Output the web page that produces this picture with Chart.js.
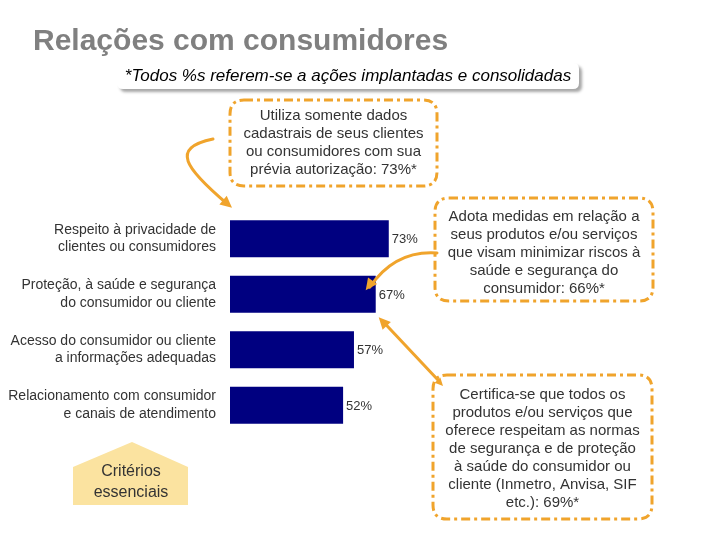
<!DOCTYPE html>
<html>
<head>
<meta charset="utf-8">
<script src="https://cdn.jsdelivr.net/npm/chart.js@4/dist/chart.umd.min.js"></script>
<style>
  html, body { margin: 0; padding: 0; background: #ffffff; }
  #wrap { width: 720px; height: 540px; position: relative; }
</style>
</head>
<body>
<div id="wrap"><canvas id="c" width="720" height="540"></canvas></div>
<script>
// ---- Data ----
const categories = [
  ['Respeito à privacidade de', 'clientes ou consumidores'],
  ['Proteção, à saúde e segurança', 'do consumidor ou cliente'],
  ['Acesso do consumidor ou cliente', 'a informações adequadas'],
  ['Relacionamento com consumidor', 'e canais de atendimento']
];
const values = [73, 67, 57, 52];
const valueLabels = ['73%', '67%', '57%', '52%'];

const titleText = 'Relações com consumidores';
const subtitleText = '*Todos %s referem-se a ações implantadas e consolidadas';
const callout1 = ['Utiliza somente dados', 'cadastrais de seus clientes', 'ou consumidores com sua', 'prévia autorização: 73%*'];
const callout2 = ['Adota medidas em relação a', 'seus produtos e/ou serviços', 'que visam minimizar riscos à', 'saúde e segurança do', 'consumidor: 66%*'];
const callout3 = ['Certifica-se que todos os', 'produtos e/ou serviços que', 'oferece respeitam as normas', 'de segurança e de proteção', 'à saúde do consumidor ou', 'cliente (Inmetro, Anvisa, SIF', 'etc.): 69%*'];
const badgeLines = ['Critérios', 'essenciais'];

// ---- Styles ----
const FONT = '"Liberation Sans", Arial, sans-serif';
const ORANGE = '#F0A42C';
const TEXT = '#333333';

function roundRectPath(ctx, x, y, w, h, r) {
  ctx.beginPath();
  ctx.moveTo(x + r, y);
  ctx.lineTo(x + w - r, y);
  ctx.quadraticCurveTo(x + w, y, x + w, y + r);
  ctx.lineTo(x + w, y + h - r);
  ctx.quadraticCurveTo(x + w, y + h, x + w - r, y + h);
  ctx.lineTo(x + r, y + h);
  ctx.quadraticCurveTo(x, y + h, x, y + h - r);
  ctx.lineTo(x, y + r);
  ctx.quadraticCurveTo(x, y, x + r, y);
  ctx.closePath();
}

function drawCallout(ctx, x, y, w, h, lines, firstY) {
  ctx.save();
  roundRectPath(ctx, x, y, w, h, 14);
  ctx.fillStyle = '#ffffff';
  ctx.fill();
  ctx.setLineDash([9, 4, 3, 4]);
  ctx.lineWidth = 3;
  ctx.strokeStyle = ORANGE;
  ctx.stroke();
  ctx.setLineDash([]);
  ctx.fillStyle = TEXT;
  ctx.font = '15px ' + FONT;
  ctx.textAlign = 'center';
  ctx.textBaseline = 'middle';
  lines.forEach((l, i) => ctx.fillText(l, x + w / 2, firstY + i * 18));
  ctx.restore();
}

function arrowHead(ctx, tipX, tipY, fromX, fromY, size) {
  const ang = Math.atan2(tipY - fromY, tipX - fromX);
  ctx.beginPath();
  ctx.moveTo(tipX, tipY);
  ctx.lineTo(tipX - size * Math.cos(ang - 0.45), tipY - size * Math.sin(ang - 0.45));
  ctx.lineTo(tipX - size * Math.cos(ang + 0.45), tipY - size * Math.sin(ang + 0.45));
  ctx.closePath();
  ctx.fill();
}

const decorPlugin = {
  id: 'decor',
  beforeDraw(chart) {
    const ctx = chart.ctx;
    ctx.save();
    ctx.fillStyle = '#ffffff';
    ctx.fillRect(0, 0, chart.width, chart.height);
    ctx.restore();
  },
  afterDraw(chart) {
    const ctx = chart.ctx;
    const xs = chart.scales.x, ys = chart.scales.y;
    ctx.save();

    // Title
    ctx.fillStyle = '#808080';
    ctx.font = 'bold 30px ' + FONT;
    ctx.textAlign = 'left';
    ctx.textBaseline = 'alphabetic';
    ctx.fillText(titleText, 33, 50);

    // Subtitle box with shadow
    ctx.save();
    ctx.shadowColor = 'rgba(0,0,0,0.35)';
    ctx.shadowOffsetX = 3;
    ctx.shadowOffsetY = 3;
    ctx.shadowBlur = 3;
    roundRectPath(ctx, 117, 63, 462, 26, 6);
    ctx.fillStyle = '#ffffff';
    ctx.fill();
    ctx.restore();
    ctx.fillStyle = '#000000';
    ctx.font = 'italic 17px ' + FONT;
    ctx.textAlign = 'center';
    ctx.textBaseline = 'middle';
    ctx.fillText(subtitleText, 348, 76);

    // Callouts
    drawCallout(ctx, 230, 100, 207, 86, callout1, 116);
    drawCallout(ctx, 435, 198, 218, 103, callout2, 217);
    drawCallout(ctx, 433, 375, 219, 144, callout3, 395);

    // Arrows
    ctx.strokeStyle = ORANGE;
    ctx.fillStyle = ORANGE;
    ctx.lineWidth = 3;
    ctx.lineCap = 'round';
    const b0top = ys.getPixelForValue(0) - 18;
    const b1y = ys.getPixelForValue(1);
    const b1end = xs.getPixelForValue(values[1]);

    // Arrow 1: callout 1 -> first bar
    const t1x = xs.getPixelForValue(0) + 2, t1y = b0top - 13;
    ctx.beginPath();
    ctx.moveTo(213, 139);
    ctx.bezierCurveTo(170, 148, 185, 168, t1x - 5, t1y - 4);
    ctx.stroke();
    arrowHead(ctx, t1x, t1y, 185, 168, 13);

    // Arrow 2: callout 2 -> second bar
    const t2x = b1end - 10, t2y = b1y - 4;
    ctx.beginPath();
    ctx.moveTo(437, 253);
    ctx.quadraticCurveTo(395, 250, t2x + 4, t2y - 3);
    ctx.stroke();
    arrowHead(ctx, t2x, t2y, 395, 250, 13);

    // Arrow 3: callout 3 -> second bar (double headed)
    const t3x = b1end + 3, t3y = b1y + 23;
    ctx.beginPath();
    ctx.moveTo(t3x + 4, t3y + 4);
    ctx.lineTo(438, 380);
    ctx.stroke();
    arrowHead(ctx, t3x, t3y, 442, 385, 13);
    arrowHead(ctx, 443, 386, t3x, t3y, 9);

    // Badge pentagon
    ctx.beginPath();
    ctx.moveTo(73, 467);
    ctx.lineTo(132, 442);
    ctx.lineTo(188, 467);
    ctx.lineTo(188, 505);
    ctx.lineTo(73, 505);
    ctx.closePath();
    ctx.fillStyle = '#FBE3A0';
    ctx.fill();
    ctx.fillStyle = TEXT;
    ctx.font = '16px ' + FONT;
    ctx.textAlign = 'center';
    ctx.textBaseline = 'middle';
    badgeLines.forEach((l, i) => ctx.fillText(l, 131, 472 + i * 21));

    ctx.restore();
  }
};

const valueLabelPlugin = {
  id: 'valueLabels',
  afterDatasetsDraw(chart) {
    const ctx = chart.ctx;
    const meta = chart.getDatasetMeta(0);
    ctx.save();
    ctx.fillStyle = TEXT;
    ctx.font = '13px ' + FONT;
    ctx.textAlign = 'left';
    ctx.textBaseline = 'middle';
    meta.data.forEach((bar, i) => {
      ctx.fillText(valueLabels[i], bar.x + 3, bar.y + 1);
    });
    ctx.restore();
  }
};

new Chart(document.getElementById('c'), {
  type: 'bar',
  data: {
    labels: categories,
    datasets: [{
      data: values,
      backgroundColor: '#000080',
      borderWidth: 0,
      categoryPercentage: 1,
      barPercentage: 0.67
    }]
  },
  options: {
    indexAxis: 'y',
    responsive: false,
    devicePixelRatio: 1,
    animation: false,
    events: [],
    layout: { padding: { left: 0, top: 211, right: 272.5, bottom: 107 } },
    plugins: { legend: { display: false }, tooltip: { enabled: false }, title: { display: false } },
    scales: {
      x: { display: false, min: 0, max: 100 },
      y: {
        grid: { display: false, drawTicks: false },
        border: { display: false },
        ticks: {
          color: TEXT,
          font: { family: FONT, size: 14, lineHeight: 1.24 },
          padding: 14,
          crossAlign: 'near'
        },
        afterFit(scale) { scale.width = 230; }
      }
    }
  },
  plugins: [decorPlugin, valueLabelPlugin]
});
</script>
</body>
</html>
